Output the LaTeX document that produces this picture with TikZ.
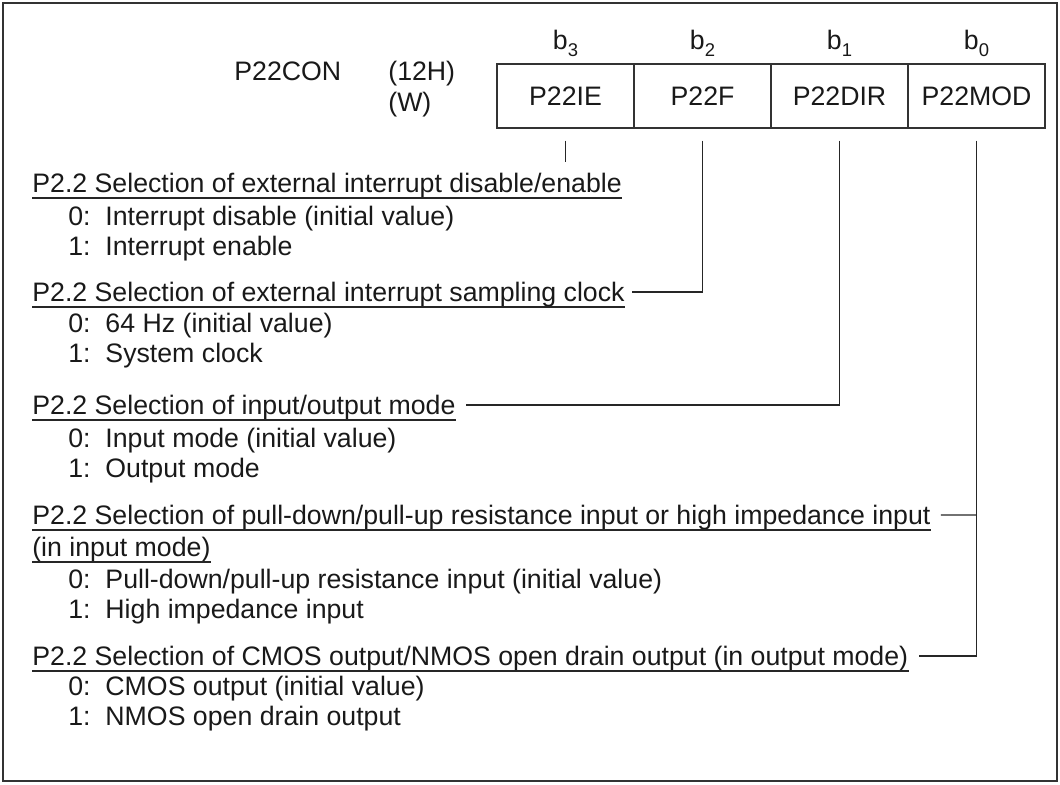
\documentclass[tikz,border=0pt]{standalone}
\usepackage{fontspec}
\setmainfont{Liberation Sans}
\usetikzlibrary{positioning}

\begin{document}
\begin{tikzpicture}[
	x=0.02cm, y=-0.02cm,
	font=\fontsize{15.2}{18}\selectfont,
	text=black!90,
	bitcell/.style={
		rectangle,
		draw=black!80,
		line width=0.6pt,
		minimum width=2.74cm,
		minimum height=1.28cm,
		inner sep=0pt
	},
	bitlabel/.style={
		anchor=base,
		inner sep=0pt
	},
	title/.style={
		anchor=base west,
		inner sep=0pt
	},
	heading/.style={
		anchor=base west,
		inner sep=0pt
	},
	choice/.style={
		anchor=base west,
		inner sep=0pt
	},
	underline/.style={
		line width=0.6pt,
		draw=black!85
	},
	lead/.style={
		line width=0.6pt,
		draw=black!85
	}
	]
	\useasboundingbox (0,0) rectangle (1060,784);
	\draw[line width=0.7pt, black!80] (3,3) rectangle (1057,781);

	% register name, address and access
	\node[title] (reg) at (234,81) {P22CON};
	\node[title] (addr) at (388,81) {(12H)};
	\node[title] (rw) at (388,112) {(W)};

	% bit cells b3 .. b0
	\foreach \bit/\field [count=\i] in {3/P22IE, 2/P22F, 1/P22DIR, 0/P22MOD}{
		\node[bitcell] (c\bit) at ({428.5+137*\i}, 96) {\field};
		\node[bitlabel] (b\bit) at ({428.5+137*\i}, 50) {b\raisebox{-0.14cm}{\fontsize{10.5}{10.5}\selectfont\bit}};
	}

	% P22IE
	\node[heading] (h1) at (32,192) {P2.2 Selection of external interrupt disable/enable};
	\node[choice] (h1a) at (68,225) {0:\ \ Interrupt disable (initial value)};
	\node[choice] (h1b) at (68,255) {1:\ \ Interrupt enable};

	% P22F
	\node[heading] (h2) at (32,301) {P2.2 Selection of external interrupt sampling clock};
	\node[choice] (h2a) at (68,332) {0:\ \ 64 Hz (initial value)};
	\node[choice] (h2b) at (68,362) {1:\ \ System clock};

	% P22DIR
	\node[heading] (h3) at (32,414) {P2.2 Selection of input/output mode};
	\node[choice] (h3a) at (68,447) {0:\ \ Input mode (initial value)};
	\node[choice] (h3b) at (68,477) {1:\ \ Output mode};

	% P22MOD
	\node[heading] (h4) at (32,524) {P2.2 Selection of pull-down/pull-up resistance input or high impedance input};
	\node[heading] (h4c) at (32,556) {(in input mode)};
	\node[choice] (h4a) at (68,588) {0:\ \ Pull-down/pull-up resistance input (initial value)};
	\node[choice] (h4b) at (68,618) {1:\ \ High impedance input};

	\node[heading] (h5) at (32,665) {P2.2 Selection of CMOS output/NMOS open drain output (in output mode)};
	\node[choice] (h5a) at (68,695) {0:\ \ CMOS output (initial value)};
	\node[choice] (h5b) at (68,725) {1:\ \ NMOS open drain output};

	\foreach \h in {h1,h2,h3,h4,h4c,h5}{
		\draw[underline] ([yshift=-0.12cm]\h.base west) -- ([yshift=-0.12cm]\h.base east);
	}

	\draw[lead, shorten <=0.24cm, shorten >=0.2cm] (c3.south) -- (c3.south |- h1.north);
	\draw[lead, shorten <=0.24cm] (c2.south) |- ([xshift=0.14cm, yshift=0.18cm]h2.base east);
	\draw[lead, shorten <=0.24cm] (c1.south) |- ([xshift=0.2cm, yshift=0.18cm]h3.base east);
	\draw[lead, shorten <=0.24cm] (c0.south) |- ([xshift=0.2cm, yshift=0.18cm]h5.base east);
	\draw[lead] (c0.south |- h4.base) ++(0,-9) -- ([xshift=0.2cm, yshift=0.18cm]h4.base east);
\end{tikzpicture}
\end{document}
